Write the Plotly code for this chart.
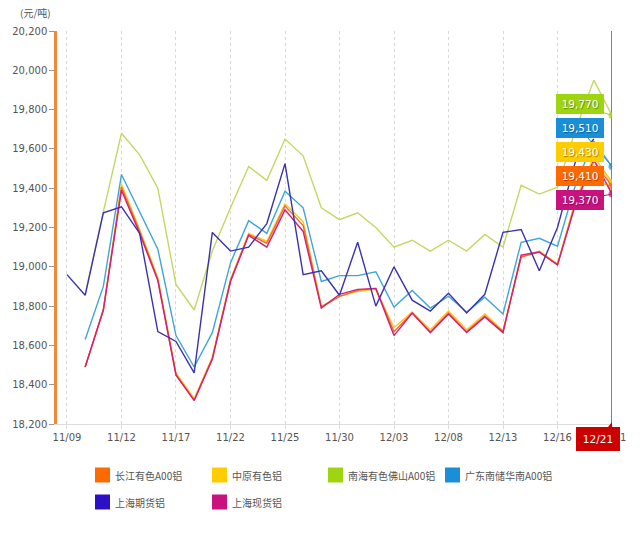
import plotly.graph_objects as go

dates = ['11/09','11/10','11/11','11/12','11/15','11/16','11/17','11/18','11/19','11/22',
         '11/23','11/24','11/25','11/26','11/29','11/30','12/01','12/02','12/03','12/06',
         '12/07','12/08','12/09','12/10','12/13','12/14','12/15','12/16','12/17','12/20','12/21']

changjiang = [None, 18490, 18780, 19405, 19180, 18935, 18450, 18320, 18535, 18930, 19165, 19120, 19310, 19210,
              18795, 18850, 18880, 18890, 18670, 18765, 18670, 18765, 18670, 18750, 18670, 19050, 19075, 19010,
              19330, 19540, 19410]
zhongyuan = [None, 18490, 18780, 19420, 19190, 18945, 18460, 18330, 18540, 18935, 19170, 19130, 19320, 19230,
             18800, 18850, 18875, 18885, 18690, 18770, 18680, 18775, 18680, 18760, 18675, 19055, 19080, 19015,
             19340, 19560, 19430]
nanhai = [None, 18860, 19280, 19680, 19570, 19400, 18910, 18780, 19080, 19300, 19510, 19440, 19650, 19565,
          19300, 19240, 19275, 19200, 19100, 19135, 19080, 19135, 19080, 19165, 19100, 19415, 19370, 19405,
          19700, 19950, 19770]
guangdong = [None, 18630, 18900, 19470, 19280, 19090, 18650, 18490, 18665, 19020, 19235, 19170, 19385, 19300,
             18925, 18955, 18955, 18975, 18795, 18880, 18790, 18850, 18770, 18845, 18760, 19125, 19145, 19105,
             19420, 19640, 19510]
shfe = [18960, 18855, 19275, 19305, 19170, 18670, 18620, 18460, 19175, 19080, 19100, 19220, 19525, 18960,
        18980, 18855, 19125, 18800, 19000, 18830, 18775, 18865, 18765, 18860, 19175, 19190, 18980, 19200,
        19540, 19650, None]
shspot = [None, 18490, 18780, 19390, 19170, 18930, 18450, 18320, 18530, 18925, 19160, 19100, 19290, 19180,
          18790, 18860, 18885, 18890, 18650, 18765, 18665, 18760, 18665, 18745, 18665, 19060, 19075, 19010,
          19320, 19545, 19370]

names = ['长江有色A00铝', '中原有色铝', '南海有色佛山A00铝', '广东南储华南A00铝', '上海期货铝', '上海现货铝']
series = [changjiang, zhongyuan, nanhai, guangdong, shfe, shspot]
box_colors = ['#ff6a00', '#ffcc00', '#9fd411', '#1a8fd8', '#2c10c8', '#c8127e']
line_colors = ['#f26a2a', '#ffc61a', '#c3d863', '#3ea6d8', '#3a32b0', '#d21f7c']

y_ticks = list(range(18200, 20201, 200))

fig = go.Figure()
draw_order = [1, 0, 5, 2, 3, 4]
for i in draw_order:
    vals = series[i]
    last = max(k for k, v in enumerate(vals) if v is not None)
    sizes = [0] * len(vals)
    if last == len(vals) - 1:
        sizes[last] = 7
    fig.add_trace(go.Scatter(
        x=dates, y=vals, name=names[i], mode='lines+markers',
        line=dict(color=line_colors[i], width=1.4),
        marker=dict(size=sizes, color=box_colors[i], line=dict(width=0)),
        showlegend=False, connectgaps=False,
    ))

# crosshair line at last date
fig.add_shape(type='line', xref='x', yref='paper', x0=dates[-1], x1=dates[-1], y0=0, y1=1,
              line=dict(color='#cc2233', width=1.5), layer='below')

# value labels at last date (sorted by value)
last_vals = [(series[i][-1], i) for i in range(len(series)) if series[i][-1] is not None]
last_vals.sort(reverse=True)
label_top = 19826
label_step = 122
for k, (v, i) in enumerate(last_vals):
    fig.add_annotation(
        x=dates[-1], y=v, xref='x', yref='y',
        axref='pixel', ax=-32, ayref='y', ay=label_top - k * label_step,
        text=f'{v:,}', showarrow=True, arrowhead=0, arrowwidth=1, arrowcolor=box_colors[i],
        standoff=0, startstandoff=0,
        bgcolor=box_colors[i], bordercolor=box_colors[i], borderpad=1,
        width=44, height=16,
        font=dict(family='DejaVu Sans, Verdana', size=10.5, color='white',
                  shadow='1px 1px 1px rgba(0,0,0,0.35)'),
    )

# date tag at bottom
fig.add_annotation(
    x=dates[-1], y=0, xref='x', yref='paper', yanchor='top', xanchor='center',
    xshift=-14, yshift=-3, showarrow=False, text=dates[-1],
    bgcolor='#cc0000', bordercolor='#cc0000', borderpad=1, width=40, height=20,
    font=dict(family='DejaVu Sans, Verdana', size=10.5, color='white'),
)
fig.add_shape(type='path', xref='x', yref='paper', xsizemode='pixel', ysizemode='pixel',
              xanchor=dates[-1], yanchor=0, path='M-4,-3 L4,-3 L0,2 Z',
              fillcolor='#cc0000', line=dict(width=0))

# y unit label
fig.add_annotation(x=0, y=1, xref='paper', yref='paper', xanchor='left', yanchor='bottom',
                   xshift=-39, yshift=9, showarrow=False, text='(元/吨)',
                   font=dict(family='Noto Sans CJK SC', size=10, color='#555'))

# manual legend
col_off = [38, 155, 271, 388]
row_off = [-51, -78]
for idx, nm in enumerate(names):
    r, c = divmod(idx, 4)
    fig.add_shape(type='rect', xref='paper', yref='paper', xsizemode='pixel', ysizemode='pixel',
                  xanchor=0, yanchor=0, x0=col_off[c], x1=col_off[c] + 15,
                  y0=row_off[r] - 7.5, y1=row_off[r] + 7.5,
                  fillcolor=box_colors[idx], line=dict(width=0))
    fig.add_annotation(x=0, y=0, xref='paper', yref='paper', xanchor='left', yanchor='middle',
                       xshift=col_off[c] + 18, yshift=row_off[r], showarrow=False, text=nm,
                       font=dict(family='Noto Sans CJK SC', size=10, color='#555'))

fig.update_layout(
    width=640, height=533,
    margin=dict(l=57, r=28, t=31, b=109),
    plot_bgcolor='white', paper_bgcolor='white',
    font=dict(family='DejaVu Sans, Verdana', size=10, color='#555'),
    xaxis=dict(type='category', range=[-0.55, 30], tickmode='array',
               tickvals=dates[::3], ticktext=dates[::3],
               showgrid=True, gridcolor='#d9d9d9', griddash='dot', gridwidth=1,
               showline=True, linecolor='#dddddd', linewidth=1,
               ticks='outside', ticklen=4, tickcolor='#dddddd',
               tickfont=dict(size=10, color='#555'), zeroline=False),
    yaxis=dict(range=[18200, 20200], tickmode='array', tickvals=y_ticks,
               ticktext=[f'{v:,}' for v in y_ticks],
               showgrid=False, zeroline=False,
               showline=True, linecolor='#f0883a', linewidth=2.5,
               ticks='outside', ticklen=5, tickcolor='#999999',
               tickfont=dict(size=10, color='#555')),
)

fig.write_html('out.html', config={'displayModeBar': False},
               post_script="document.body.style.margin='0';document.body.style.overflow='hidden';")
